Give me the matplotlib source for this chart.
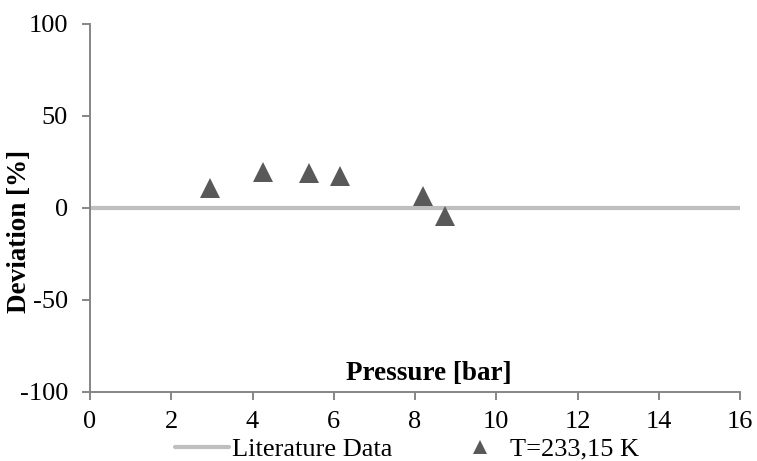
import matplotlib

matplotlib.use("Agg")
import matplotlib.pyplot as plt
from matplotlib.lines import Line2D

pressure = [2.95, 4.25, 5.4, 6.15, 8.2, 8.75]
deviation = [11.0, 19.7, 19.0, 17.6, 6.7, -4.5]

# Literature reference (zero deviation line)
lit_pressure = [0, 16]
lit_deviation = [0, 0]

x_ticks = [0, 2, 4, 6, 8, 10, 12, 14, 16]
y_ticks = [-100, -50, 0, 50, 100]

SPINE = "#868686"
LIT = "#bfbfbf"
MARK = "#595959"
FS = 19
FS_BOLD = 19.5

plt.rcParams["font.family"] = ["Liberation Serif", "DejaVu Serif"]
plt.rcParams["axes.unicode_minus"] = False

fig = plt.figure(figsize=(7.57, 4.61), dpi=100)
ax = fig.add_axes([90 / 757, 1 - 392 / 461, 650 / 757, 368 / 461])

ax.plot(lit_pressure, lit_deviation, color=LIT, linewidth=3, solid_capstyle="butt",
        zorder=2)
ax.plot(pressure, deviation, linestyle="none", marker="^", markersize=14,
        color=MARK, markeredgewidth=0, zorder=3)

ax.set_xlim(0, 16)
ax.set_ylim(-100, 100)
ax.set_xticks(x_ticks)
ax.set_yticks(y_ticks)

for side in ("top", "right"):
    ax.spines[side].set_visible(False)
for side in ("left", "bottom"):
    ax.spines[side].set_color(SPINE)
    ax.spines[side].set_linewidth(1.4)

ax.tick_params(axis="both", direction="out", length=5.8, width=1.4, color=SPINE,
               labelsize=FS, labelcolor="black")
ax.tick_params(axis="x", pad=8)
ax.tick_params(axis="y", pad=10)

# axis titles sit inside / beside the plot like the spreadsheet original
ax.text((429 - 90) / 650, 0.049, "Pressure [bar]", transform=ax.transAxes,
        ha="center", va="center", fontsize=FS_BOLD, fontweight="bold")
fig.text(20 / 757, 1 - 231 / 461, "Deviation [%]", rotation=90, ha="center",
         va="center", fontsize=FS_BOLD, fontweight="bold")

handles = [
    Line2D([], [], color=LIT, linewidth=3, solid_capstyle="round"),
    Line2D([], [], linestyle="none", marker="^", markersize=10, color=MARK,
           markeredgewidth=0),
]
fig.legend(handles, ["Literature Data", "T=233,15 K"], loc="center",
           bbox_to_anchor=(407 / 757, 1 - 449 / 461), ncol=2, frameon=False,
           fontsize=FS, handlelength=2.05, handletextpad=0.1, columnspacing=2.3,
           borderpad=0, borderaxespad=0)

fig.savefig("out.png", dpi=100)
